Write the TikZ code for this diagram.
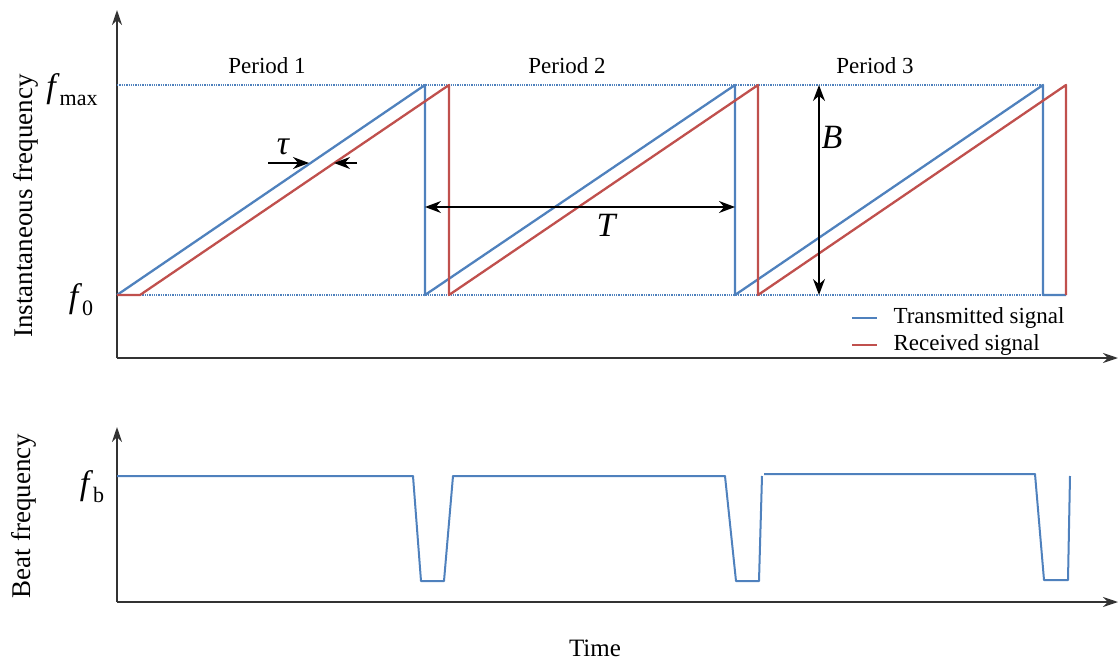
\documentclass[tikz,border=0pt]{standalone}
\usepackage{fontspec}
\setmainfont{Liberation Serif}
\usetikzlibrary{arrows.meta}

\definecolor{txblue}{RGB}{79,129,189}
\definecolor{rxred}{RGB}{192,80,77}
\newcommand{\fsub}[1]{\textit{f}\raisebox{-0.5ex}{\fontsize{22}{22}\selectfont #1}}

\begin{document}
\begin{tikzpicture}[
        x=1pt, y=-1pt,
        axis/.style={-{Stealth[length=15pt,width=10pt]}, line width=2pt, black!80},
        tx/.style={txblue, line width=2.3pt, line join=round},
        rx/.style={rxred, line width=2.3pt, line join=round},
        level/.style={txblue, densely dotted, line width=1.3pt},
        dim/.style={{Stealth[length=16pt,width=12pt]}-{Stealth[length=16pt,width=12pt]}, line width=1.6pt},
        tip/.style={-{Stealth[length=16pt,width=12pt]}, line width=1.6pt},
        lab/.style={font=\fontsize{23}{27}\selectfont},
        sym/.style={font=\fontsize{34}{40}\selectfont\itshape},
        ylab/.style={font=\fontsize{27}{32}\selectfont, rotate=90}
    ]
        \useasboundingbox (0,0) rectangle (1120,661);

        % upper axes
        \coordinate (o1) at (117,358);
        \coordinate (y1) at (117,10);
        \coordinate (x1) at (1118,358);
        \draw[axis] (o1) -- (y1);
        \draw[axis] (o1) -- (x1);

        % levels f_max and f_0
        \coordinate (topL) at (117,85);
        \coordinate (topR) at (1043,85);
        \coordinate (botL) at (117,295);
        \coordinate (botR) at (1043,295);
        \draw[level] (topL) -- (topR);
        \draw[level] (botL) -- (botR);

        % transmitted and received chirps
        \draw[tx] (117,295) -- (425,85) -- (425,295) -- (735,85) -- (735,295)
            -- (1043,85) -- (1043,295) -- (1066,295);
        \draw[rx] (117,295) -- (140,295) -- (449,85) -- (449,295) -- (758,85)
            -- (758,295) -- (1066,85) -- (1066,295);

        % delay tau
        \coordinate (tauA) at (268,163);
        \coordinate (tauB) at (309,163);
        \coordinate (tauC) at (357,163);
        \coordinate (tauD) at (334,163);
        \draw[tip] (tauA) -- (tauB);
        \draw[tip] (tauC) -- (tauD);
        \node[sym] (tau) at (283,147) {τ};

        % period T
        \coordinate (tA) at (425,207);
        \coordinate (tB) at (735,207);
        \draw[dim] (tA) -- (tB);
        \node[sym] (T) at (606,225) {T};

        % bandwidth B
        \coordinate (bA) at (819,85);
        \coordinate (bB) at (819,295);
        \draw[dim] (bA) -- (bB);
        \node[sym] (B) at (832,137) {B};

        % period labels
        \node[lab] (p1) at (267,66) {Period 1};
        \node[lab] (p2) at (567,66) {Period 2};
        \node[lab] (p3) at (875,66) {Period 3};

        % frequency labels
        \node[font=\fontsize{34}{40}\selectfont] (fmax) at (72,90) {\fsub{max}};
        \node[font=\fontsize{34}{40}\selectfont] (f0) at (81,300) {\fsub{0}};
        \node[ylab] (ylab1) at (26,206) {Instantaneous frequency};

        % legend
        \coordinate (lgA) at (852,318);
        \coordinate (lgB) at (877,318);
        \coordinate (lgC) at (852,345);
        \coordinate (lgD) at (877,345);
        \draw[tx] (lgA) -- (lgB);
        \draw[rx] (lgC) -- (lgD);
        \node[lab, anchor=west] (lgtx) at (890,318) {Transmitted signal};
        \node[lab, anchor=west] (lgrx) at (890,345) {Received signal};

        % lower axes
        \coordinate (o2) at (117,602);
        \coordinate (y2) at (117,427);
        \coordinate (x2) at (1118,602);
        \draw[axis] (o2) -- (y2);
        \draw[axis] (o2) -- (x2);

        % beat frequency
        \draw[tx, line width=2pt] (117,476) -- (413,476) -- (421,581) -- (444,581) -- (453,476)
            -- (725,476) -- (736,581) -- (759,581) -- (762,476);
        \draw[tx, line width=2pt] (764,474) -- (1035,474) -- (1044,580) -- (1068,580) -- (1070,476);

        \node[font=\fontsize{34}{40}\selectfont] (fb) at (92,487) {\fsub{b}};
        \node[ylab] (ylab2) at (24,516) {Beat frequency};
        \node[font=\fontsize{25}{30}\selectfont] (time) at (595,648) {Time};

    \end{tikzpicture}
\end{document}
